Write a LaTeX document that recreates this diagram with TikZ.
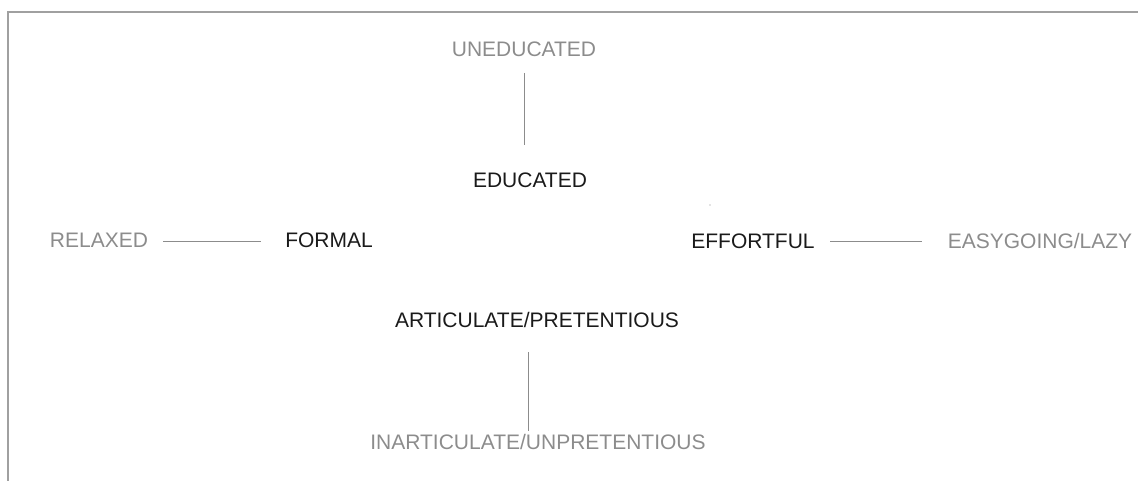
\documentclass[tikz,border=0pt]{standalone}
\usepackage{fontspec}
\setmainfont{Liberation Sans}
\definecolor{framegray}{HTML}{A0A0A0}
\definecolor{softgray}{HTML}{8C8C8C}
\definecolor{ink}{HTML}{1A1A1A}
\begin{document}
\begin{tikzpicture}[x=1pt,y=-1pt,
  term/.style={inner sep=0pt, font=\fontsize{21}{24}\selectfont, text=ink},
  opposite/.style={term, text=softgray},
  link/.style={draw=softgray, line width=1pt}]
\useasboundingbox (0,0) rectangle (1138,481);
% page frame (top and left edges)
\draw[framegray, line width=2pt] (8.3,481) -- (8.3,12) -- (1138,12);

% terms
\node[opposite] (uned) at (524,49) {UNEDUCATED};
\node[term] (ed) at (530,180) {EDUCATED};
\node[opposite] (relax) at (99,240) {RELAXED};
\node[term] (formal) at (329,240) {FORMAL};
\node[term] (effort) at (753,241) {EFFORTFUL};
\node[opposite] (easy) at (1040,241) {EASYGOING/LAZY};
\node[term] (artic) at (537,320) {ARTICULATE/PRETENTIOUS};
\node[opposite] (inartic) at (538,442) {INARTICULATE/UNPRETENTIOUS};

% connectors
\coordinate (u1) at (524,73);  \coordinate (u2) at (524,145);
\coordinate (r1) at (163,242); \coordinate (r2) at (261,242);
\coordinate (e1) at (830,242); \coordinate (e2) at (922,242);
\coordinate (a1) at (528,352); \coordinate (a2) at (528,431);
\draw[link] (u1) -- (u2);
\draw[link] (r1) -- (r2);
\draw[link] (e1) -- (e2);
\draw[link] (a1) -- (a2);

% stray mark
\fill[softgray] (710,205) circle (0.7pt);
\end{tikzpicture}
\end{document}
